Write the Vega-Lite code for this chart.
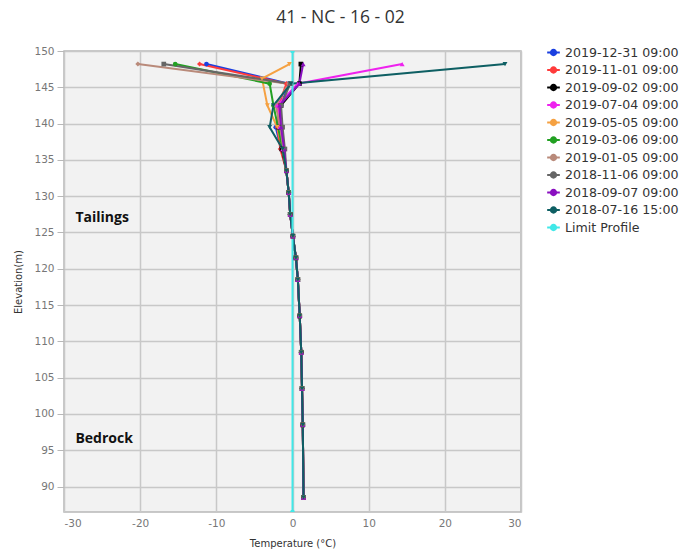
{
  "$schema": "https://vega.github.io/schema/vega-lite/v6.json",
  "width": 457,
  "height": 461,
  "autosize": {"type": "none"},
  "padding": {"left": 64, "top": 51, "right": 166, "bottom": 44},
  "title": {"text": "41 - NC - 16 - 02", "font": "Open Sans", "fontSize": 17.5, "fontWeight": "normal", "color": "#333333", "anchor": "middle", "dx": 48, "offset": 19},
  "datasets": {
    "profiles": [
      {"s": "2019-12-31 09:00", "e": 148.2, "t": -11.3}, {"s": "2019-12-31 09:00", "e": 145.5, "t": -0.5}, {"s": "2019-12-31 09:00", "e": 142.5, "t": -1.5}, {"s": "2019-12-31 09:00", "e": 139.5, "t": -2.2}, {"s": "2019-12-31 09:00", "e": 136.5, "t": -1.5},
      {"s": "2019-12-31 09:00", "e": 133.5, "t": -0.8}, {"s": "2019-12-31 09:00", "e": 130.5, "t": -0.5}, {"s": "2019-12-31 09:00", "e": 127.5, "t": -0.3}, {"s": "2019-12-31 09:00", "e": 124.5, "t": 0.05}, {"s": "2019-12-31 09:00", "e": 121.5, "t": 0.45}, {"s": "2019-12-31 09:00", "e": 118.5, "t": 0.7}, {"s": "2019-12-31 09:00", "e": 113.5, "t": 0.95}, {"s": "2019-12-31 09:00", "e": 108.5, "t": 1.15}, {"s": "2019-12-31 09:00", "e": 103.5, "t": 1.25}, {"s": "2019-12-31 09:00", "e": 98.5, "t": 1.35}, {"s": "2019-12-31 09:00", "e": 88.5, "t": 1.45},
      {"s": "2019-11-01 09:00", "e": 148.2, "t": -12.2}, {"s": "2019-11-01 09:00", "e": 145.5, "t": -0.8}, {"s": "2019-11-01 09:00", "e": 142.5, "t": -1.8}, {"s": "2019-11-01 09:00", "e": 139.5, "t": -2.0}, {"s": "2019-11-01 09:00", "e": 136.5, "t": -1.6},
      {"s": "2019-11-01 09:00", "e": 133.5, "t": -0.8}, {"s": "2019-11-01 09:00", "e": 130.5, "t": -0.5}, {"s": "2019-11-01 09:00", "e": 127.5, "t": -0.3}, {"s": "2019-11-01 09:00", "e": 124.5, "t": 0.05}, {"s": "2019-11-01 09:00", "e": 121.5, "t": 0.45}, {"s": "2019-11-01 09:00", "e": 118.5, "t": 0.7}, {"s": "2019-11-01 09:00", "e": 113.5, "t": 0.95}, {"s": "2019-11-01 09:00", "e": 108.5, "t": 1.15}, {"s": "2019-11-01 09:00", "e": 103.5, "t": 1.25}, {"s": "2019-11-01 09:00", "e": 98.5, "t": 1.35}, {"s": "2019-11-01 09:00", "e": 88.5, "t": 1.45},
      {"s": "2019-09-02 09:00", "e": 148.2, "t": 1.1}, {"s": "2019-09-02 09:00", "e": 145.5, "t": 0.9}, {"s": "2019-09-02 09:00", "e": 142.5, "t": -1.5}, {"s": "2019-09-02 09:00", "e": 139.5, "t": -1.8}, {"s": "2019-09-02 09:00", "e": 136.5, "t": -1.4},
      {"s": "2019-09-02 09:00", "e": 133.5, "t": -0.8}, {"s": "2019-09-02 09:00", "e": 130.5, "t": -0.5}, {"s": "2019-09-02 09:00", "e": 127.5, "t": -0.3}, {"s": "2019-09-02 09:00", "e": 124.5, "t": 0.05}, {"s": "2019-09-02 09:00", "e": 121.5, "t": 0.45}, {"s": "2019-09-02 09:00", "e": 118.5, "t": 0.7}, {"s": "2019-09-02 09:00", "e": 113.5, "t": 0.95}, {"s": "2019-09-02 09:00", "e": 108.5, "t": 1.15}, {"s": "2019-09-02 09:00", "e": 103.5, "t": 1.25}, {"s": "2019-09-02 09:00", "e": 98.5, "t": 1.35}, {"s": "2019-09-02 09:00", "e": 88.5, "t": 1.45},
      {"s": "2019-07-04 09:00", "e": 148.2, "t": 14.4}, {"s": "2019-07-04 09:00", "e": 145.5, "t": 0.7}, {"s": "2019-07-04 09:00", "e": 142.5, "t": -2.0}, {"s": "2019-07-04 09:00", "e": 139.5, "t": -1.7}, {"s": "2019-07-04 09:00", "e": 136.5, "t": -1.3},
      {"s": "2019-07-04 09:00", "e": 133.5, "t": -0.8}, {"s": "2019-07-04 09:00", "e": 130.5, "t": -0.5}, {"s": "2019-07-04 09:00", "e": 127.5, "t": -0.3}, {"s": "2019-07-04 09:00", "e": 124.5, "t": 0.05}, {"s": "2019-07-04 09:00", "e": 121.5, "t": 0.45}, {"s": "2019-07-04 09:00", "e": 118.5, "t": 0.7}, {"s": "2019-07-04 09:00", "e": 113.5, "t": 0.95}, {"s": "2019-07-04 09:00", "e": 108.5, "t": 1.15}, {"s": "2019-07-04 09:00", "e": 103.5, "t": 1.25}, {"s": "2019-07-04 09:00", "e": 98.5, "t": 1.35}, {"s": "2019-07-04 09:00", "e": 88.5, "t": 1.45},
      {"s": "2019-05-05 09:00", "e": 148.2, "t": -0.4}, {"s": "2019-05-05 09:00", "e": 146.2, "t": -4.0}, {"s": "2019-05-05 09:00", "e": 142.5, "t": -3.3}, {"s": "2019-05-05 09:00", "e": 139.5, "t": -2.0}, {"s": "2019-05-05 09:00", "e": 136.5, "t": -1.3},
      {"s": "2019-05-05 09:00", "e": 133.5, "t": -0.8}, {"s": "2019-05-05 09:00", "e": 130.5, "t": -0.5}, {"s": "2019-05-05 09:00", "e": 127.5, "t": -0.3}, {"s": "2019-05-05 09:00", "e": 124.5, "t": 0.05}, {"s": "2019-05-05 09:00", "e": 121.5, "t": 0.45}, {"s": "2019-05-05 09:00", "e": 118.5, "t": 0.7}, {"s": "2019-05-05 09:00", "e": 113.5, "t": 0.95}, {"s": "2019-05-05 09:00", "e": 108.5, "t": 1.15}, {"s": "2019-05-05 09:00", "e": 103.5, "t": 1.25}, {"s": "2019-05-05 09:00", "e": 98.5, "t": 1.35}, {"s": "2019-05-05 09:00", "e": 88.5, "t": 1.45},
      {"s": "2019-03-06 09:00", "e": 148.2, "t": -15.4}, {"s": "2019-03-06 09:00", "e": 145.5, "t": -3.0}, {"s": "2019-03-06 09:00", "e": 142.5, "t": -2.5}, {"s": "2019-03-06 09:00", "e": 139.5, "t": -1.9}, {"s": "2019-03-06 09:00", "e": 136.5, "t": -1.3},
      {"s": "2019-03-06 09:00", "e": 133.5, "t": -0.8}, {"s": "2019-03-06 09:00", "e": 130.5, "t": -0.5}, {"s": "2019-03-06 09:00", "e": 127.5, "t": -0.3}, {"s": "2019-03-06 09:00", "e": 124.5, "t": 0.05}, {"s": "2019-03-06 09:00", "e": 121.5, "t": 0.45}, {"s": "2019-03-06 09:00", "e": 118.5, "t": 0.7}, {"s": "2019-03-06 09:00", "e": 113.5, "t": 0.95}, {"s": "2019-03-06 09:00", "e": 108.5, "t": 1.15}, {"s": "2019-03-06 09:00", "e": 103.5, "t": 1.25}, {"s": "2019-03-06 09:00", "e": 98.5, "t": 1.35}, {"s": "2019-03-06 09:00", "e": 88.5, "t": 1.45},
      {"s": "2019-01-05 09:00", "e": 148.2, "t": -20.3}, {"s": "2019-01-05 09:00", "e": 145.5, "t": -0.5}, {"s": "2019-01-05 09:00", "e": 142.5, "t": -2.2}, {"s": "2019-01-05 09:00", "e": 139.5, "t": -1.6}, {"s": "2019-01-05 09:00", "e": 136.5, "t": -1.2},
      {"s": "2019-01-05 09:00", "e": 133.5, "t": -0.8}, {"s": "2019-01-05 09:00", "e": 130.5, "t": -0.5}, {"s": "2019-01-05 09:00", "e": 127.5, "t": -0.3}, {"s": "2019-01-05 09:00", "e": 124.5, "t": 0.05}, {"s": "2019-01-05 09:00", "e": 121.5, "t": 0.45}, {"s": "2019-01-05 09:00", "e": 118.5, "t": 0.7}, {"s": "2019-01-05 09:00", "e": 113.5, "t": 0.95}, {"s": "2019-01-05 09:00", "e": 108.5, "t": 1.15}, {"s": "2019-01-05 09:00", "e": 103.5, "t": 1.25}, {"s": "2019-01-05 09:00", "e": 98.5, "t": 1.35}, {"s": "2019-01-05 09:00", "e": 88.5, "t": 1.45},
      {"s": "2018-11-06 09:00", "e": 148.2, "t": -16.9}, {"s": "2018-11-06 09:00", "e": 145.5, "t": -0.3}, {"s": "2018-11-06 09:00", "e": 142.5, "t": -1.5}, {"s": "2018-11-06 09:00", "e": 139.5, "t": -1.3}, {"s": "2018-11-06 09:00", "e": 136.5, "t": -1.0},
      {"s": "2018-11-06 09:00", "e": 133.5, "t": -0.8}, {"s": "2018-11-06 09:00", "e": 130.5, "t": -0.5}, {"s": "2018-11-06 09:00", "e": 127.5, "t": -0.3}, {"s": "2018-11-06 09:00", "e": 124.5, "t": 0.05}, {"s": "2018-11-06 09:00", "e": 121.5, "t": 0.45}, {"s": "2018-11-06 09:00", "e": 118.5, "t": 0.7}, {"s": "2018-11-06 09:00", "e": 113.5, "t": 0.95}, {"s": "2018-11-06 09:00", "e": 108.5, "t": 1.15}, {"s": "2018-11-06 09:00", "e": 103.5, "t": 1.25}, {"s": "2018-11-06 09:00", "e": 98.5, "t": 1.35}, {"s": "2018-11-06 09:00", "e": 88.5, "t": 1.45},
      {"s": "2018-09-07 09:00", "e": 148.2, "t": 1.4}, {"s": "2018-09-07 09:00", "e": 145.5, "t": 0.9}, {"s": "2018-09-07 09:00", "e": 142.5, "t": -1.7}, {"s": "2018-09-07 09:00", "e": 139.5, "t": -1.5}, {"s": "2018-09-07 09:00", "e": 136.5, "t": -1.1},
      {"s": "2018-09-07 09:00", "e": 133.5, "t": -0.8}, {"s": "2018-09-07 09:00", "e": 130.5, "t": -0.5}, {"s": "2018-09-07 09:00", "e": 127.5, "t": -0.3}, {"s": "2018-09-07 09:00", "e": 124.5, "t": 0.05}, {"s": "2018-09-07 09:00", "e": 121.5, "t": 0.45}, {"s": "2018-09-07 09:00", "e": 118.5, "t": 0.7}, {"s": "2018-09-07 09:00", "e": 113.5, "t": 0.95}, {"s": "2018-09-07 09:00", "e": 108.5, "t": 1.15}, {"s": "2018-09-07 09:00", "e": 103.5, "t": 1.25}, {"s": "2018-09-07 09:00", "e": 98.5, "t": 1.35}, {"s": "2018-09-07 09:00", "e": 88.5, "t": 1.45},
      {"s": "2018-07-16 15:00", "e": 148.2, "t": 27.9}, {"s": "2018-07-16 15:00", "e": 145.5, "t": -0.2}, {"s": "2018-07-16 15:00", "e": 142.5, "t": -2.5}, {"s": "2018-07-16 15:00", "e": 139.5, "t": -3.0}, {"s": "2018-07-16 15:00", "e": 136.5, "t": -1.3},
      {"s": "2018-07-16 15:00", "e": 133.5, "t": -0.8}, {"s": "2018-07-16 15:00", "e": 130.5, "t": -0.5}, {"s": "2018-07-16 15:00", "e": 127.5, "t": -0.3}, {"s": "2018-07-16 15:00", "e": 124.5, "t": 0.05}, {"s": "2018-07-16 15:00", "e": 121.5, "t": 0.45}, {"s": "2018-07-16 15:00", "e": 118.5, "t": 0.7}, {"s": "2018-07-16 15:00", "e": 113.5, "t": 0.95}, {"s": "2018-07-16 15:00", "e": 108.5, "t": 1.15}, {"s": "2018-07-16 15:00", "e": 103.5, "t": 1.25}, {"s": "2018-07-16 15:00", "e": 98.5, "t": 1.35}, {"s": "2018-07-16 15:00", "e": 88.5, "t": 1.45},
      {"s": "Limit Profile", "e": 150, "t": 0},
      {"s": "Limit Profile", "e": 86.5, "t": 0}
    ],
    "boundaries": [{"e": 148.1}, {"e": 106.4}],
    "labels": [{"label": "Tailings", "e": 127, "t": -28.5}, {"label": "Bedrock", "e": 96.5, "t": -28.5}]
  },
  "layer": [
    {
      "data": {"name": "boundaries"},
      "mark": {"type": "rule", "color": "#111111", "strokeWidth": 2},
      "encoding": {"y": {"field": "e", "type": "quantitative"}}
    },
    {
      "data": {"name": "profiles"},
      "mark": {"type": "line", "strokeWidth": 2, "clip": true},
      "encoding": {
        "x": {"field": "t", "type": "quantitative"},
        "y": {"field": "e", "type": "quantitative"},
        "order": {"field": "e", "sort": "descending"},
        "color": {
          "field": "s", "type": "nominal",
          "scale": {
            "domain": ["2019-12-31 09:00", "2019-11-01 09:00", "2019-09-02 09:00", "2019-07-04 09:00", "2019-05-05 09:00", "2019-03-06 09:00", "2019-01-05 09:00", "2018-11-06 09:00", "2018-09-07 09:00", "2018-07-16 15:00", "Limit Profile"],
            "range": ["#1a3fe0", "#ff3b3b", "#000000", "#ee22ee", "#f5a142", "#22a022", "#b98a7a", "#666666", "#8a10c0", "#0e5f63", "#40e8e8"]
          },
          "legend": {
            "title": null, "orient": "none", "legendX": 482, "legendY": -6,
            "symbolType": "M-1,0H1M-0.4,0A0.4,0.4 0 1,0 0.4,0A0.4,0.4 0 1,0 -0.4,0",
            "symbolSize": 160, "symbolStrokeWidth": 2.2,
            "labelFont": "DejaVu Sans", "labelFontSize": 12.6, "labelColor": "#333333",
            "rowPadding": 2.5, "labelOffset": 4, "padding": 0, "labelLimit": 200
          }
        }
      }
    },
    {
      "data": {"name": "profiles"},
      "transform": [{"filter": {"field": "s", "oneOf": ["2019-12-31 09:00", "2019-03-06 09:00", "Limit Profile"]}}],
      "mark": {"type": "point", "shape": "circle", "filled": true, "size": 22, "opacity": 1, "clip": true},
      "encoding": {"x": {"field": "t", "type": "quantitative"}, "y": {"field": "e", "type": "quantitative"}, "color": {"field": "s", "type": "nominal", "legend": null}}
    },
    {
      "data": {"name": "profiles"},
      "transform": [{"filter": {"field": "s", "oneOf": ["2019-11-01 09:00", "2019-01-05 09:00"]}}],
      "mark": {"type": "point", "shape": "diamond", "filled": true, "size": 26, "opacity": 1, "clip": true},
      "encoding": {"x": {"field": "t", "type": "quantitative"}, "y": {"field": "e", "type": "quantitative"}, "color": {"field": "s", "type": "nominal", "legend": null}}
    },
    {
      "data": {"name": "profiles"},
      "transform": [{"filter": {"field": "s", "oneOf": ["2019-09-02 09:00", "2018-11-06 09:00"]}}],
      "mark": {"type": "point", "shape": "square", "filled": true, "size": 22, "opacity": 1, "clip": true},
      "encoding": {"x": {"field": "t", "type": "quantitative"}, "y": {"field": "e", "type": "quantitative"}, "color": {"field": "s", "type": "nominal", "legend": null}}
    },
    {
      "data": {"name": "profiles"},
      "transform": [{"filter": {"field": "s", "oneOf": ["2019-07-04 09:00", "2018-09-07 09:00"]}}],
      "mark": {"type": "point", "shape": "triangle-up", "filled": true, "size": 24, "opacity": 1, "clip": true},
      "encoding": {"x": {"field": "t", "type": "quantitative"}, "y": {"field": "e", "type": "quantitative"}, "color": {"field": "s", "type": "nominal", "legend": null}}
    },
    {
      "data": {"name": "profiles"},
      "transform": [{"filter": {"field": "s", "oneOf": ["2019-05-05 09:00", "2018-07-16 15:00"]}}],
      "mark": {"type": "point", "shape": "triangle-down", "filled": true, "size": 24, "opacity": 1, "clip": true},
      "encoding": {"x": {"field": "t", "type": "quantitative"}, "y": {"field": "e", "type": "quantitative"}, "color": {"field": "s", "type": "nominal", "legend": null}}
    },
    {
      "data": {"name": "labels"},
      "mark": {"type": "text", "align": "left", "baseline": "middle", "font": "Open Sans", "fontSize": 14, "fontWeight": "bold", "color": "#111111"},
      "encoding": {
        "x": {"field": "t", "type": "quantitative"},
        "y": {"field": "e", "type": "quantitative"},
        "text": {"field": "label"}
      }
    }
  ],
  "encoding": {
    "x": {"field": "t", "type": "quantitative",
      "scale": {"domain": [-30, 30], "nice": false, "zero": false},
      "axis": {"title": "Temperature (°C)", "values": [-30, -20, -10, 0, 10, 20, 30], "labelExpr": "'' + datum.value", "ticks": false, "labelPadding": 6, "titlePadding": 10}
    },
    "y": {"field": "e", "type": "quantitative",
      "scale": {"domain": [86.5, 150], "nice": false, "zero": false},
      "axis": {"title": "Elevation(m)", "values": [90, 95, 100, 105, 110, 115, 120, 125, 130, 135, 140, 145, 150], "tickSize": 7, "labelPadding": 3, "titlePadding": 10}
    }
  },
  "resolve": {"scale": {"color": "shared"}},
  "config": {
    "view": {"fill": "#f2f2f2", "stroke": "#b8b8b8", "strokeWidth": 1.5},
    "axis": {
      "labelFont": "DejaVu Sans", "labelFontSize": 10.5, "labelColor": "#777777",
      "titleFont": "DejaVu Sans", "titleFontSize": 10, "titleFontWeight": "normal", "titleColor": "#333333",
      "gridColor": "#c8c8c8", "gridWidth": 1.5, "domain": false, "tickColor": "#b8b8b8"
    }
  }
}
